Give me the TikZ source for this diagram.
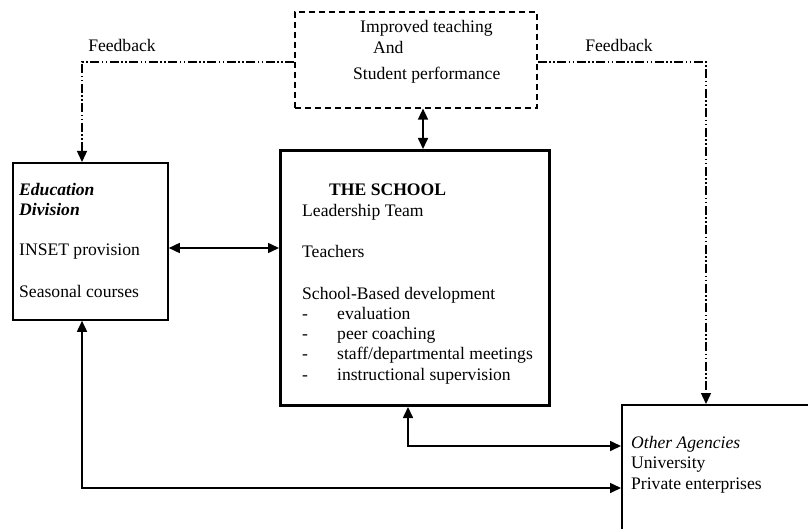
\documentclass[tikz,border=0pt]{standalone}
\usepackage{fontspec}
\setmainfont{Liberation Serif}
\usetikzlibrary{arrows.meta,calc}
\tikzset{
  box/.style={draw,line width=1.8pt,inner sep=0pt,anchor=north west},
  thickbox/.style={draw,line width=3pt,inner sep=0pt,anchor=north west},
  dbox/.style={draw,line width=1.6pt,dash pattern=on 6pt off 4pt,inner sep=0pt,anchor=north west},
  txt/.style={anchor=base west,inner sep=0pt,font=\fontsize{17.6}{20.5}\selectfont},
  ctxt/.style={anchor=base,inner sep=0pt,font=\fontsize{17.6}{20.5}\selectfont},
  conn/.style={line width=1.6pt,{Triangle[length=11pt,width=10pt]}-{Triangle[length=11pt,width=10pt]}},
  fb/.style={line width=1.4pt,dash pattern=on 9pt off 2.5pt on 1.5pt off 2.5pt on 1.5pt off 2.5pt,-{Triangle[length=11pt,width=10pt]}}
}
\begin{document}
\begin{tikzpicture}[x=1pt,y=-1pt]
\clip (0,0) rectangle (808,529);
\fill[white] (0,0) rectangle (808,529);
% boxes
\node[dbox,minimum width=242pt,minimum height=96pt] (top) at (294,11) {};
\node[box,minimum width=155pt,minimum height=157pt] (ed) at (12,162) {};
\node[thickbox,minimum width=269pt,minimum height=255pt] (sch) at (279,149) {};
\node[box,minimum width=220pt,minimum height=160pt] (oa) at (621,404) {};
% top text
\node[txt] (t1) at (360,33) {Improved teaching};
\node[txt] (t2) at (373,54) {And};
\node[txt] (t3) at (353,80) {Student performance};
% ed text
\node[txt,font=\fontsize{17.6}{20.5}\selectfont\bfseries\itshape] (e1) at (19,196) {Education};
\node[txt,font=\fontsize{17.6}{20.5}\selectfont\bfseries\itshape] (e2) at (19,216) {Division};
\node[txt] (e3) at (19,256) {INSET provision};
\node[txt] (e4) at (19,298) {Seasonal courses};
% school text
\node[txt,font=\fontsize{17.6}{20.5}\selectfont\bfseries] (s1) at (329,196) {THE SCHOOL};
\node[txt] (s2) at (302,217) {Leadership Team};
\node[txt] (s3) at (302,258) {Teachers};
\node[txt] (s4) at (302,299) {School-Based development};
\node[txt] (d1) at (302,319) {-};
\node[txt] (d2) at (302,339) {-};
\node[txt] (d3) at (302,359) {-};
\node[txt] (d4) at (302,380) {-};
\node[txt] (i1) at (337,319) {evaluation};
\node[txt] (i2) at (337,339) {peer coaching};
\node[txt] (i3) at (337,359) {staff/departmental meetings};
\node[txt] (i4) at (337,380) {instructional supervision};
% other agencies text
\node[txt,font=\fontsize{17.6}{20.5}\selectfont\itshape] (o1) at (631,448) {Other Agencies};
\node[txt] (o2) at (631,468) {University};
\node[txt] (o3) at (631,489) {Private enterprises};
% feedback labels
\node[ctxt] (f1) at (122,52) {Feedback};
\node[ctxt] (f2) at (619,52) {Feedback};
% feedback connectors
\coordinate (fl) at (82,62);
\coordinate (fr) at (706,62);
\draw[fb] (top.west |- fl) -- (fl) -- (fl |- ed.north);
\draw[fb] (top.east |- fr) -- (fr) -- (fr |- oa.north);
% solid connectors
\coordinate (ct) at (423,0);
\draw[conn] (ct |- top.south) -- (ct |- sch.north);
\coordinate (ch) at (0,248);
\draw[conn] (ed.east |- ch) -- (sch.west |- ch);
\coordinate (c1) at (408,446);
\draw[conn] (c1 |- sch.south) -- (c1) -- (c1 -| oa.west);
\coordinate (c2) at (82,488);
\draw[conn] (c2 |- ed.south) -- (c2) -- (c2 -| oa.west);
\end{tikzpicture}
\end{document}
